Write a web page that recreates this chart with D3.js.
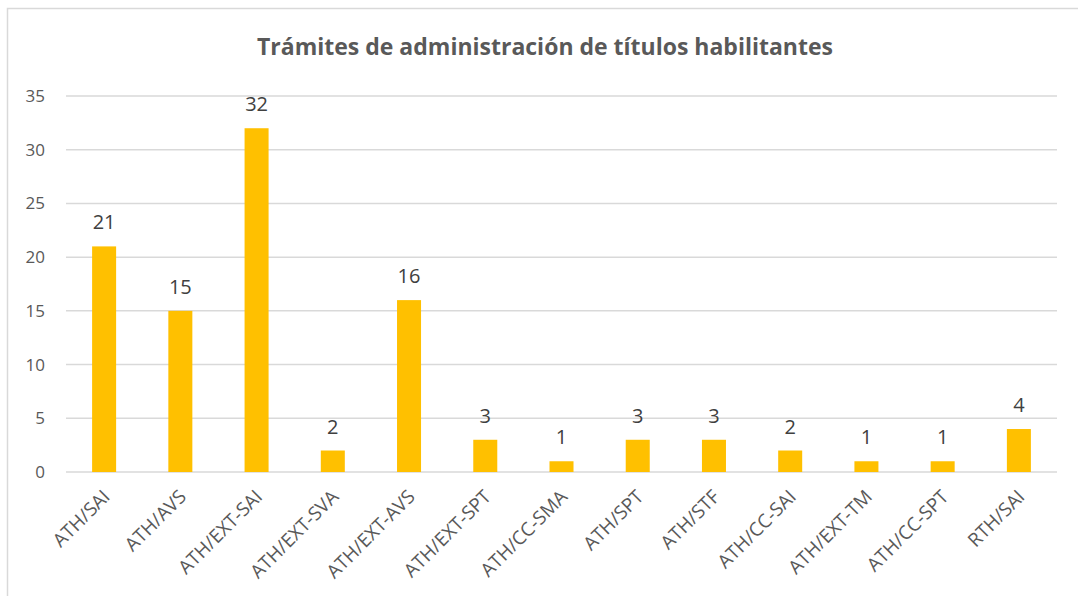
<!DOCTYPE html>
<html>
<head>
<meta charset="utf-8">
<script src="https://cdn.jsdelivr.net/npm/d3@7"></script>
<style>
  body { margin: 0; background: #fff; }
  text { font-family: "Open Sans", "Liberation Sans", sans-serif; }
</style>
</head>
<body>
<svg width="1078" height="596"></svg>
<script>
const svg = d3.select("svg");
const width = +svg.attr("width");
const height = +svg.attr("height");

const categories = ["ATH/SAI", "ATH/AVS", "ATH/EXT-SAI", "ATH/EXT-SVA", "ATH/EXT-AVS", "ATH/EXT-SPT",
  "ATH/CC-SMA", "ATH/SPT", "ATH/STF", "ATH/CC-SAI", "ATH/EXT-TM", "ATH/CC-SPT", "RTH/SAI"];
const values = [21, 15, 32, 2, 16, 3, 1, 3, 3, 2, 1, 1, 4];
const yTicks = [0, 5, 10, 15, 20, 25, 30, 35];
const title = "Trámites de administración de títulos habilitantes";

const margin = { left: 66, right: 21, top: 96, bottom: 124 };

// chart border (only left/top visible in the frame)
svg.append("rect")
  .attr("x", 7.5).attr("y", 8.5)
  .attr("width", width + 20).attr("height", height + 20)
  .attr("fill", "none")
  .attr("stroke", "#d9d9d9")
  .attr("stroke-width", 1.5);

const x = d3.scaleBand()
  .domain(categories)
  .range([margin.left, width - margin.right])
  .paddingInner(0.685)
  .paddingOuter(0.3425);

const y = d3.scaleLinear()
  .domain([0, 35])
  .range([height - margin.bottom, margin.top]);

// Gridlines
svg.append("g")
  .selectAll("line")
  .data(yTicks)
  .join("line")
  .attr("x1", margin.left)
  .attr("x2", width - margin.right)
  .attr("y1", d => y(d))
  .attr("y2", d => y(d))
  .attr("stroke", "#d9d9d9")
  .attr("stroke-width", 1.5);

// Y axis labels
const yAxis = svg.append("g")
  .attr("transform", `translate(${margin.left - 21},0)`)
  .call(d3.axisLeft(y).tickValues(yTicks).tickSize(0).tickPadding(0));
yAxis.select(".domain").remove();
yAxis.selectAll("text")
  .attr("fill", "#595959")
  .attr("font-size", 17);

// Bars
svg.append("g")
  .selectAll("rect")
  .data(values)
  .join("rect")
  .attr("x", (d, i) => x(categories[i]))
  .attr("y", d => y(d))
  .attr("width", x.bandwidth())
  .attr("height", d => y(0) - y(d))
  .attr("fill", "#ffc000");

// Value labels
svg.append("g")
  .selectAll("text")
  .data(values)
  .join("text")
  .attr("x", (d, i) => x(categories[i]) + x.bandwidth() / 2)
  .attr("y", d => y(d) - 17)
  .attr("text-anchor", "middle")
  .attr("font-size", 20)
  .attr("fill", "#404040")
  .text(d => d);

// X axis labels
const xAxis = svg.append("g")
  .attr("transform", `translate(0,${y(0)})`)
  .call(d3.axisBottom(x).tickSize(0).tickPadding(0));
xAxis.select(".domain").remove();
xAxis.selectAll("text")
  .attr("fill", "#595959")
  .attr("font-size", 19)
  .attr("text-anchor", "end")
  .attr("dy", null)
  .attr("transform", "translate(7,26) rotate(-45)");

// Title
svg.append("text")
  .attr("x", 545)
  .attr("y", 55)
  .attr("text-anchor", "middle")
  .attr("font-size", 23)
  .attr("font-weight", "bold")
  .attr("fill", "#595959")
  .text(title);
</script>
</body>
</html>
